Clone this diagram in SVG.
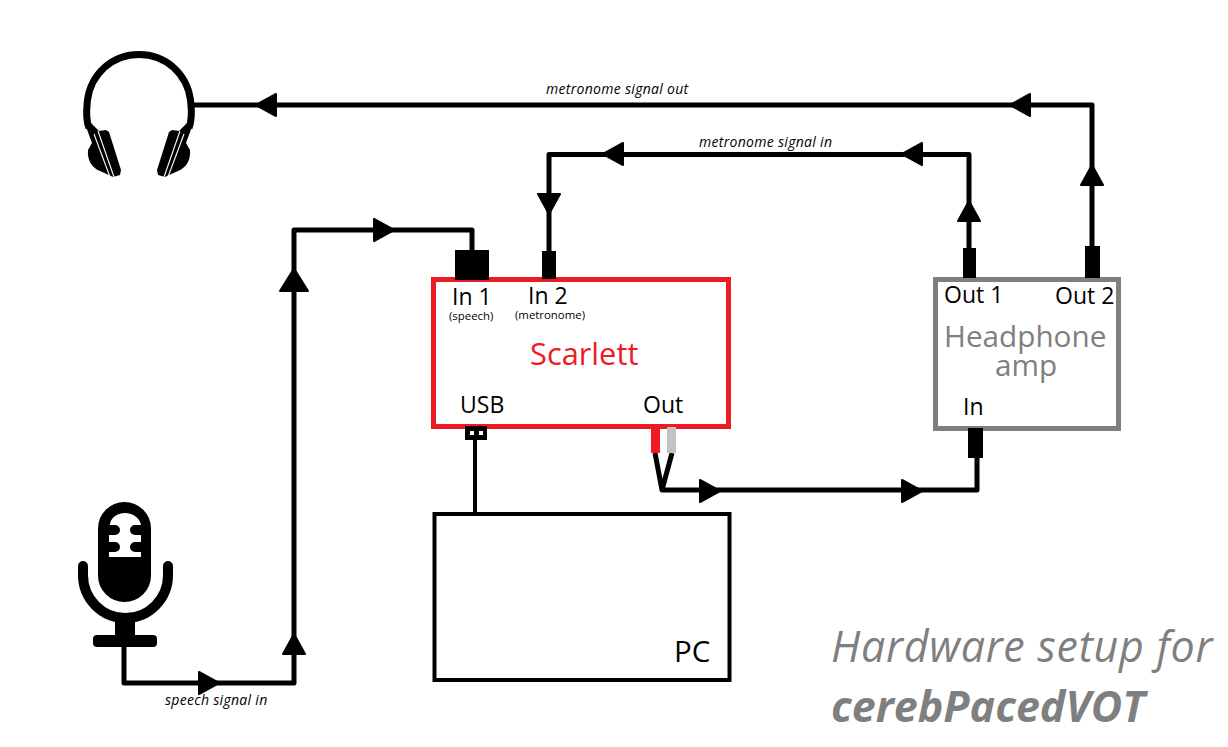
<svg xmlns="http://www.w3.org/2000/svg" width="1228" height="747" viewBox="0 0 1228 747">
<style>
text{font-family:"Open Sans","Noto Sans",sans-serif;fill:#000}
.w{fill:none;stroke:#000;stroke-width:5;stroke-linejoin:round}
.t{font-size:23px}
.s{font-size:11.4px}
.i{font-size:14px;font-style:italic;letter-spacing:.3px}
.box{fill:none;stroke-width:5}
.g{fill:#7f7f7f}
.cut{stroke:#fff;stroke-width:1.1;fill:none}
</style>
<defs>
<polygon id="ar" points="-10,-11 10,0 -10,11" stroke="#000" stroke-width="2" stroke-linejoin="round"/>
<g id="cup">
<path d="M85 124L90 122L99 131L106 130L109 132L121 170L120 175L113 177L111 176L100 171C92 168 87 160 88 150L92 143Z"/>
<path class="cut" d="M94 134L110 177"/>
<path class="cut" d="M98 131L114 177"/>
</g>
</defs>
<rect width="1228" height="747" fill="#fff"/>
<g id="connectors">
<path class="w" d="M124 645V683H294V230H472V250"/>
<path class="w" d="M549 252V154.500H969V250"/>
<path class="w" d="M1092 248V105H190"/>
<path class="w" style="stroke-width:4" d="M475 438V514"/>
<path class="w" d="M655 453L662 490H977V458M662 490L672 453"/>
<use href="#ar" transform="translate(209 683)"/>
<use href="#ar" transform="translate(294 644) rotate(-90)"/>
<use href="#ar" transform="translate(294 280) rotate(-90) scale(1.1 1.25)"/>
<use href="#ar" transform="translate(384 230)"/>
<use href="#ar" transform="translate(549 204) rotate(90)"/>
<use href="#ar" transform="translate(613 154) rotate(180)"/>
<use href="#ar" transform="translate(912 154) rotate(180)"/>
<use href="#ar" transform="translate(969 211) rotate(-90)"/>
<use href="#ar" transform="translate(1092 175) rotate(-90)"/>
<use href="#ar" transform="translate(1020 105) rotate(180)"/>
<use href="#ar" transform="translate(266 105) rotate(180)"/>
<use href="#ar" transform="translate(710 491)"/>
<use href="#ar" transform="translate(912 491)"/>
</g>
<g id="headphones">
<path d="M89 128C85 118 87 105 87.500 100C91 74 112 54.500 139 54.500C166 54.500 187 74 190.500 100C191 105 193 118 189 128" fill="none" stroke="#000" stroke-width="7"/>
<use href="#cup"/>
<use href="#cup" transform="matrix(-1 0 0 1 278 0)"/>
</g>
<g id="microphone">
<rect x="98" y="502" width="53" height="100" rx="26.500"/>
<path d="M109 557V552H115A5 5 0 0 0 115 542H109V535H115A5 5 0 0 0 115 525H110C110 518 117 513 125 513C133 513 140 518 141 525H135A5 5 0 0 0 135 535H141V542H135A5 5 0 0 0 135 552H141V557Z" fill="#fff"/>
<path d="M83 566V575A42.500 43 0 0 0 168 575V566" fill="none" stroke="#000" stroke-width="10" stroke-linecap="round"/>
<rect x="115" y="616" width="20" height="22"/>
<rect x="93" y="635" width="64" height="12" rx="4"/>
</g>
<g id="scarlett">
<rect class="box" x="433.500" y="279.500" width="295" height="147" stroke="#ed1c24"/>
<rect x="455" y="250" width="34" height="30"/>
<rect x="542" y="251" width="14" height="28"/>
<rect x="465" y="426" width="22" height="14"/>
<rect x="470" y="431" width="4" height="4" fill="#fff"/>
<rect x="479" y="431" width="4" height="4" fill="#fff"/>
<rect x="651" y="427" width="9" height="26" fill="#ed1c24"/>
<rect x="667" y="427" width="9" height="26" fill="#c3c3c3"/>
<text class="t" x="452" y="305">In 1</text>
<text class="t" x="528" y="304">In 2</text>
<text class="s" x="449" y="320">(speech)</text>
<text class="s" x="515" y="319">(metronome)</text>
<text x="530" y="365" font-size="30.800" style="fill:#ed1c24">Scarlett</text>
<text class="t" x="460" y="413">USB</text>
<text class="t" x="643" y="413">Out</text>
</g>
<g id="headphone-amp">
<rect class="box" x="935.500" y="279.500" width="183" height="149" stroke="#7f7f7f"/>
<rect x="963" y="248" width="13" height="30"/>
<rect x="1085" y="246" width="15" height="32"/>
<rect x="968" y="428" width="15" height="30"/>
<text class="t" x="944" y="303">Out 1</text>
<text class="t" x="1055" y="304">Out 2</text>
<text x="944" y="347" font-size="29.700" style="fill:#7f7f7f">Headphone</text>
<text x="995" y="376" font-size="29.700" style="fill:#7f7f7f">amp</text>
<text class="t" x="963" y="415">In</text>
</g>
<g id="pc">
<rect x="434.500" y="514" width="295" height="166" fill="none" stroke="#000" stroke-width="4"/>
<text x="674" y="662" font-size="29.500">PC</text>
</g>
<g id="labels">
<text class="i" x="546" y="94">metronome signal out</text>
<text class="i" x="699" y="147">metronome signal in</text>
<text class="i" x="165" y="705">speech signal in</text>
<text x="831" y="662" font-size="43" font-style="italic" letter-spacing=".7" style="fill:#7f7f7f">Hardware setup for</text>
<text x="831" y="722" font-size="43" font-style="italic" font-weight="700" style="fill:#7f7f7f">cerebPacedVOT</text>
</g>
</svg>
